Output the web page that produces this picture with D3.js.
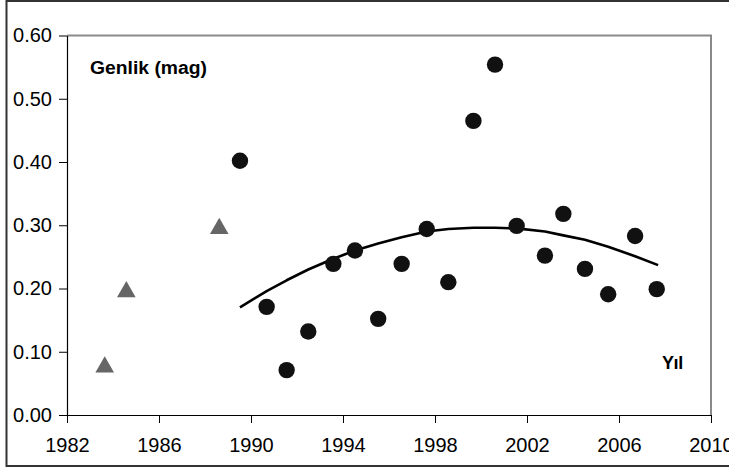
<!DOCTYPE html>
<html>
<head>
<meta charset="utf-8">
<script src="https://cdn.jsdelivr.net/npm/d3@7"></script>
<style>
  body { margin: 0; background: #fff; }
  svg { display: block; font-family: "Liberation Sans", Arial, sans-serif; }
</style>
</head>
<body>
<div id="chart"></div>
<script>
/* --- data --- */
let triYears = [1983.64, 1984.58, 1988.62]
let triAmps = [0.079, 0.198, 0.298]

let dotYears = [1989.52, 1990.68, 1991.55, 1992.49, 1993.58, 1994.52, 1995.53, 1996.55, 1997.64, 1998.58,
  1999.67, 2000.61, 2001.55, 2002.78, 2003.58, 2004.52, 2005.53, 2006.70, 2007.64]
let dotAmps = [0.402, 0.171, 0.071, 0.132, 0.239, 0.260, 0.152, 0.239, 0.294, 0.210,
  0.465, 0.554, 0.299, 0.252, 0.318, 0.231, 0.191, 0.283, 0.199]

let trendYears = [1989.52, 1990.68, 1991.55, 1992.49, 1993.58, 1994.52, 1995.53, 1996.55, 1997.64, 1998.58,
  1999.67, 2000.61, 2001.55, 2002.78, 2003.58, 2004.52, 2005.53, 2006.70, 2007.70]
let trendAmps = [0.170, 0.196, 0.213, 0.230, 0.247, 0.260, 0.271, 0.281, 0.290, 0.294,
  0.296, 0.296, 0.295, 0.290, 0.284, 0.277, 0.266, 0.251, 0.237]

let xTicks = [1982, 1986, 1990, 1994, 1998, 2002, 2006, 2010]
let yTicks = [0, 0.1, 0.2, 0.3, 0.4, 0.5, 0.6]

/* --- layout --- */
let w = 729
let h = 468
let mLeft = 67, mRight = 711, mTop = 35.5, mBottom = 415

let svg = d3.select("#chart").append("svg")
    .attr("width", w)
    .attr("height", h)

// outer frame (cut off on the right like the source)
svg.append("rect")
    .attr("x", 6.5).attr("y", 1)
    .attr("width", 740).attr("height", 465)
    .attr("fill", "none")
    .attr("stroke", "#333")
    .attr("stroke-width", 2)

let x = d3.scaleLinear().domain([1982, 2010]).range([mLeft, mRight])
let y = d3.scaleLinear().domain([0, 0.6]).range([mBottom, mTop])

// plot area border (gray, top + right)
svg.append("path")
    .attr("d", "M" + mLeft + "," + mTop + "H" + mRight + "V" + mBottom)
    .attr("fill", "none")
    .attr("stroke", "#8a8a8a")
    .attr("stroke-width", 2)

// axes
let xAxis = svg.append("g")
    .attr("transform", "translate(0," + mBottom + ")")
    .call(d3.axisBottom(x).tickValues(xTicks).tickFormat(d3.format("d")).tickSize(8).tickSizeOuter(0).tickPadding(15))
let yAxis = svg.append("g")
    .attr("transform", "translate(" + mLeft + ",0)")
    .call(d3.axisLeft(y).tickValues(yTicks).tickFormat(d3.format(".2f")).tickSize(8).tickSizeOuter(0).tickPadding(7))

;[xAxis, yAxis].forEach(function (g) {
  g.select(".domain").attr("stroke", "#000").attr("stroke-width", 1.2)
  g.selectAll(".tick line").attr("stroke", "#000")
  g.selectAll(".tick text")
      .attr("font-family", "'Liberation Sans', Arial, sans-serif")
      .attr("font-size", 20)
      .attr("fill", "#000")
})

// trend line
svg.append("path")
    .datum(d3.range(trendYears.length))
    .attr("fill", "none")
    .attr("stroke", "#000")
    .attr("stroke-width", 2.6)
    .attr("stroke-linejoin", "round")
    .attr("d", d3.line()
        .x(function (i) { return x(trendYears[i]) })
        .y(function (i) { return y(trendAmps[i]) }))

// circles
svg.selectAll("circle.dot")
    .data(d3.range(dotYears.length))
    .enter()
    .append("circle")
    .attr("class", "dot")
    .attr("cx", function (i) { return x(dotYears[i]) })
    .attr("cy", function (i) { return y(dotAmps[i]) })
    .attr("r", 8.2)
    .attr("fill", "#111")

// triangles
let tri = d3.symbol().type(d3.symbolTriangle).size(150)
svg.selectAll("path.tri")
    .data(d3.range(triYears.length))
    .enter()
    .append("path")
    .attr("class", "tri")
    .attr("d", tri)
    .attr("transform", function (i) { return "translate(" + x(triYears[i]) + "," + (y(triAmps[i]) + 2) + ")" })
    .attr("fill", "#666")

// labels
svg.append("text")
    .attr("x", 90).attr("y", 74)
    .attr("font-size", 18)
    .attr("font-weight", "bold")
    .attr("textLength", 117)
    .attr("lengthAdjust", "spacingAndGlyphs")
    .text("Genlik (mag)")

svg.append("text")
    .attr("x", 662).attr("y", 369)
    .attr("font-size", 18)
    .attr("font-weight", "bold")
    .attr("letter-spacing", -0.4)
    .text("Yıl")
</script>
</body>
</html>
